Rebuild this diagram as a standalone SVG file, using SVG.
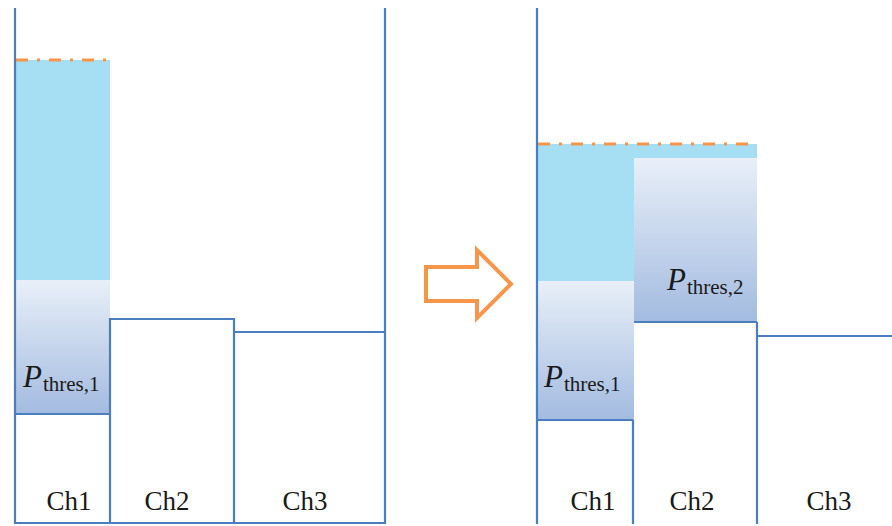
<svg xmlns="http://www.w3.org/2000/svg" width="892" height="526" viewBox="0 0 892 526">
<defs>
<linearGradient id="g1" x1="0" y1="0" x2="0" y2="1">
<stop offset="0" stop-color="#e8eff8"/>
<stop offset="1" stop-color="#a3bbe0"/>
</linearGradient>
<style>
.ln{stroke:#4a7ebf;stroke-width:2.2;fill:none}
.thr{stroke:#f7964a;stroke-width:3;fill:none;stroke-dasharray:12 9 3 9}
text{font-family:'Liberation Serif','Times New Roman',serif;fill:#1a1a1a}
.lbl{font-size:27px;text-anchor:middle}
.p{font-style:italic;font-size:31px}
.sub{font-size:21px}
</style>
</defs>
<rect width="892" height="526" fill="#ffffff"/>
<g id="left-panel">
<g id="left-ch1">
<rect x="15" y="60" width="95" height="220" fill="#a6def4"/>
<rect x="15" y="280" width="95" height="134" fill="url(#g1)"/>
<line class="ln" x1="15" y1="414" x2="110" y2="414"/>
<line class="thr" x1="16" y1="60" x2="110" y2="60"/>
<text x="23" y="387"><tspan class="p">P</tspan><tspan class="sub" dx="1" dy="4">thres,1</tspan></text>
<text class="lbl" x="69" y="510">Ch1</text>
</g>
<g id="left-ch2">
<polyline class="ln" points="110,523 110,319 234,319 234,523"/>
<text class="lbl" x="167" y="510">Ch2</text>
</g>
<g id="left-ch3">
<line class="ln" x1="234" y1="332" x2="385" y2="332"/>
<text class="lbl" x="305" y="510">Ch3</text>
</g>
<line class="ln" x1="15" y1="8" x2="15" y2="524" stroke-width="2.6"/>
<line class="ln" x1="385" y1="8" x2="385" y2="524"/>
<line class="ln" x1="15" y1="523" x2="385" y2="523"/>
</g>
<g id="arrow">
<polygon points="426,267 477,267 477,250 511,284 477,318 477,301 426,301" fill="none" stroke="#f7964a" stroke-width="4"/>
</g>
<g id="right-panel">
<g id="right-ch1">
<rect x="537" y="144" width="220" height="14" fill="#a6def4"/>
<rect x="537" y="158" width="97" height="123" fill="#a6def4"/>
<rect x="537" y="281" width="97" height="139" fill="url(#g1)"/>
<line class="ln" x1="537" y1="420" x2="633" y2="420"/>
<line class="thr" x1="538" y1="144" x2="750" y2="144"/>
<text x="544" y="387"><tspan class="p">P</tspan><tspan class="sub" dx="1" dy="4">thres,1</tspan></text>
<text class="lbl" x="593" y="510">Ch1</text>
</g>
<g id="right-ch2">
<rect x="634" y="158" width="123" height="164" fill="url(#g1)"/>
<polyline class="ln" points="633,524 633,420"/>
<line class="ln" x1="634" y1="322" x2="757" y2="322"/>
<line class="ln" x1="757" y1="322" x2="757" y2="524"/>
<text x="667" y="290"><tspan class="p">P</tspan><tspan class="sub" dx="1" dy="4">thres,2</tspan></text>
<text class="lbl" x="692" y="510">Ch2</text>
</g>
<g id="right-ch3">
<line class="ln" x1="757" y1="336" x2="892" y2="336"/>
<text class="lbl" x="829" y="510">Ch3</text>
</g>
<line class="ln" x1="537" y1="8" x2="537" y2="524" stroke-width="2.6"/>
</g>
</svg>
